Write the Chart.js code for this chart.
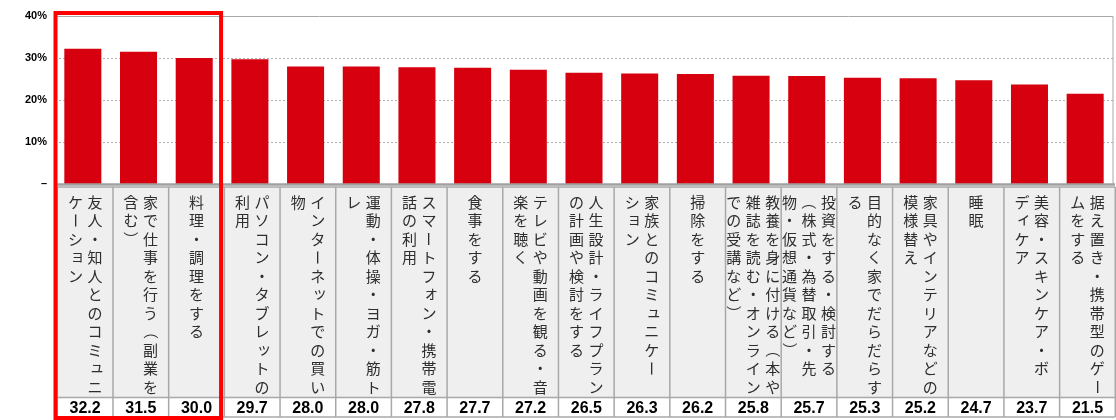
<!DOCTYPE html>
<html>
<head>
<meta charset="utf-8">
<script src="https://cdn.jsdelivr.net/npm/chart.js@4.4.1/dist/chart.umd.min.js"></script>
<style>
  html, body { margin: 0; padding: 0; background: #ffffff; }
  #wrap { width: 1116px; height: 420px; position: relative; }
</style>
</head>
<body>
<div id="wrap"><canvas id="c"></canvas></div>
<script>
// ---- data ----
const categoryLines = [
  ["友人・知人とのコミュニ", "ケーション"],
  ["家で仕事を行う（副業を", "含む）"],
  ["料理・調理をする"],
  ["パソコン・タブレットの", "利用"],
  ["インターネットでの買い", "物"],
  ["運動・体操・ヨガ・筋ト", "レ"],
  ["スマートフォン・携帯電", "話の利用"],
  ["食事をする"],
  ["テレビや動画を観る・音", "楽を聴く"],
  ["人生設計・ライフプラン", "の計画や検討をする"],
  ["家族とのコミュニケー", "ション"],
  ["掃除をする"],
  ["教養を身に付ける（本や", "雑誌を読む・オンライン", "での受講など）"],
  ["投資をする・検討する", "（株式・為替取引・先", "物・仮想通貨など）"],
  ["目的なく家でだらだらす", "る"],
  ["家具やインテリアなどの", "模様替え"],
  ["睡眠"],
  ["美容・スキンケア・ボ", "ディケア"],
  ["据え置き・携帯型のゲー", "ムをする"]
];
const values = [32.2, 31.5, 30.0, 29.7, 28.0, 28.0, 27.8, 27.7, 27.2, 26.5, 26.3, 26.2, 25.8, 25.7, 25.3, 25.2, 24.7, 23.7, 21.5];
const yTickValues = [0, 10, 20, 30, 40];
const highlightRange = [0, 2]; // first three categories boxed in red

const categories = categoryLines.map(c => c.join(""));

// ---- plugins ----
const ROTATE = new Set(["ー", "（", "）", "～", "－"]);
const SMALL = new Set(["ッ", "ュ", "ョ", "ャ", "ィ", "ォ", "ァ", "ェ", "っ", "ゃ", "ゅ", "ょ"]);

function drawVertical(ctx, cols, cx, topY) {
  const colGap = 19.5, step = 18.5;
  const n = cols.length;
  ctx.font = "15px 'Noto Sans CJK JP'";
  ctx.fillStyle = "#2e2e2e";
  ctx.textAlign = "center";
  ctx.textBaseline = "middle";
  for (let c = 0; c < n; c++) {
    const x = cx + ((n - 1) / 2 - c) * colGap;
    Array.from(cols[c]).forEach((ch, j) => {
      const y = topY + j * step;
      if (ROTATE.has(ch)) {
        ctx.save();
        ctx.translate(x, y);
        ctx.rotate(Math.PI / 2);
        ctx.fillText(ch, 0, 0);
        ctx.restore();
      } else if (SMALL.has(ch)) {
        ctx.fillText(ch, x + 2, y - 2);
      } else {
        ctx.fillText(ch, x, y);
      }
    });
  }
}

const decor = {
  id: "decor",
  beforeDraw(chart) {
    const ctx = chart.ctx;
    ctx.save();
    ctx.fillStyle = "#ffffff";
    ctx.fillRect(0, 0, chart.width, chart.height);
    ctx.restore();
  },
  beforeDatasetsDraw(chart) {
    const { ctx, chartArea: a, scales: { y } } = chart;
    ctx.save();
    // dotted grid
    ctx.strokeStyle = "#b0b0b0";
    ctx.lineWidth = 1;
    ctx.setLineDash([2, 2]);
    yTickValues.forEach(v => {
      if (v === 0 || v === 40) return;
      const py = Math.round(y.getPixelForValue(v)) + 0.5;
      ctx.beginPath(); ctx.moveTo(a.left, py); ctx.lineTo(a.right, py); ctx.stroke();
    });
    ctx.setLineDash([]);
    // top and right border
    ctx.strokeStyle = "#a8a8a8";
    const top = Math.round(y.getPixelForValue(40)) + 0.5;
    ctx.beginPath(); ctx.moveTo(a.left, top); ctx.lineTo(a.right, top);
    ctx.lineTo(a.right, a.bottom); ctx.stroke();
    ctx.restore();
  },
  afterDraw(chart) {
    const { ctx, chartArea: a, scales: { x, y } } = chart;
    ctx.save();
    // zero line
    const zy = y.getPixelForValue(0);
    ctx.strokeStyle = "#a0a0a0";
    ctx.lineWidth = 2.5;
    ctx.beginPath(); ctx.moveTo(a.left, zy + 0.5); ctx.lineTo(chart.width - 1, zy + 0.5); ctx.stroke();

    // table
    const step = x.getPixelForValue(1) - x.getPixelForValue(0);
    const half = step / 2;
    const shift = 2.3;
    const headTop = zy + 3, headBot = 397.5, valBot = 417;
    categoryLines.forEach((cols, i) => {
      const cx = x.getPixelForValue(i) + shift;
      const l = cx - half;
      ctx.fillStyle = "#efefef";
      ctx.fillRect(l, headTop, step, headBot - headTop);
      ctx.fillStyle = "#ffffff";
      ctx.fillRect(l, headBot, step, valBot - headBot);
      drawVertical(ctx, cols, cx, headTop + 15);
      ctx.font = "bold 16px 'Liberation Sans', Arial, sans-serif";
      ctx.fillStyle = "#000000";
      ctx.textAlign = "center";
      ctx.textBaseline = "middle";
      ctx.fillText(values[i].toFixed(1), cx, (headBot + valBot) / 2 + 1);
    });
    ctx.strokeStyle = "#a8a8a8";
    ctx.lineWidth = 1.5;
    for (let i = 0; i <= categoryLines.length; i++) {
      const bx = x.getPixelForValue(0) + shift - half + i * step;
      ctx.beginPath(); ctx.moveTo(bx, headTop); ctx.lineTo(bx, valBot); ctx.stroke();
    }
    const tl = x.getPixelForValue(0) + shift - half;
    const tr = tl + step * categoryLines.length;
    [headTop, headBot, valBot].forEach(hy => {
      ctx.beginPath(); ctx.moveTo(tl, hy); ctx.lineTo(tr, hy); ctx.stroke();
    });

    // red highlight box
    const bl = x.getPixelForValue(highlightRange[0]) - half + 0.5;
    const br = x.getPixelForValue(highlightRange[1]) + half - 1;
    ctx.strokeStyle = "#ff0000";
    ctx.lineWidth = 4;
    ctx.strokeRect(bl, y.getPixelForValue(40) - 3, br - bl, 418 - (y.getPixelForValue(40) - 3));
    ctx.restore();
  }
};

new Chart(document.getElementById("c"), {
  type: "bar",
  data: {
    labels: categories,
    datasets: [{
      data: values,
      backgroundColor: "#d7000f",
      borderWidth: 0,
      barPercentage: 0.665,
      categoryPercentage: 1.0
    }]
  },
  options: {
    responsive: true,
    maintainAspectRatio: false,
    animation: false,
    devicePixelRatio: 1,
    layout: { padding: { left: 0, right: 3, top: 16, bottom: 236 } },
    plugins: { legend: { display: false }, tooltip: { enabled: false } },
    scales: {
      x: { display: false, offset: true, grid: { display: false } },
      y: {
        min: 0, max: 40,
        afterFit(scale) { scale.width = 55; },
        afterBuildTicks(scale) { scale.ticks = yTickValues.map(v => ({ value: v })); },
        grid: { display: false, drawTicks: false },
        border: { display: false },
        ticks: {
          padding: 8,
          color: "#000000",
          font: { family: "'Liberation Sans', Arial, sans-serif", size: 11, weight: "bold" },
          callback: v => v === 0 ? "–" : v + "%"
        }
      }
    }
  },
  plugins: [decor]
});
</script>
</body>
</html>
